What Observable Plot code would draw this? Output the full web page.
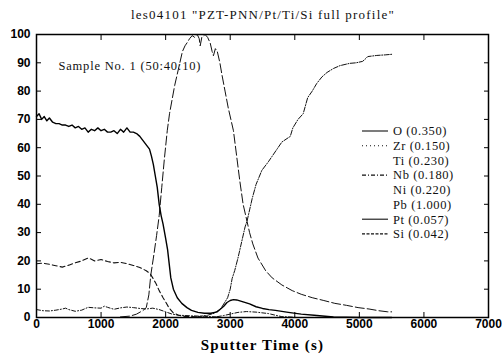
<!DOCTYPE html>
<html><head><meta charset="utf-8">
<script src="https://cdn.jsdelivr.net/npm/d3@7"></script>
<script src="https://cdn.jsdelivr.net/npm/@observablehq/plot@0.6"></script>
<style>
body{margin:0;background:#fff;width:502px;height:356px;overflow:hidden;position:relative;font-family:"Liberation Serif","Times New Roman",serif;}
#title{height:22px;line-height:30px;text-align:center;padding-left:24px;font-size:13px;letter-spacing:1.2px;color:#111;white-space:nowrap;overflow:visible;position:relative;z-index:2;}
#chart{position:relative;z-index:1;}
#legend{position:absolute;left:0;top:0;pointer-events:none;z-index:3;}
</style></head><body>
<div id="title"></div>
<div id="chart"></div>
<svg id="legend" width="502" height="356"></svg>
<script>
const titleText = 'les04101 "PZT-PNN/Pt/Ti/Si full profile"';
const sampleLabel = "Sample No. 1 (50:40:10)";
const xLabel = "Sputter Time (s)";
const xTicks = [0, 1000, 2000, 3000, 4000, 5000, 6000, 7000];
const yTicks = [0, 10, 20, 30, 40, 50, 60, 70, 80, 90, 100];

// O (solid)
const oTime = [0,40,80,120,160,200,250,300,350,400,450,500,550,600,650,700,750,800,850,900,950,1000,1050,1100,1150,1200,1250,1300,1350,1400,1450,1500,1550,1600,1650,1700,1750,1780,1810,1840,1870,1900,1930,1960,2000,2030,2060,2080,2120,2180,2250,2330,2400,2500,2600,2700,2800,2850,2900,2950,3000,3050,3100,3200,3300,3400,3500,3600,3700,3900,4100,4300,4600,5000,5500];
const oVal  = [71,72,70,71,69.5,70.5,69,68.5,68.5,68,68,67.5,68,67,67.5,66.5,67,65.5,66.5,66,67,66,66.5,65.5,65.5,66,65,66.5,65.5,67,65.5,65.5,65,64,62.5,61,59.5,57,54,50,46,40,36,33,28,24,18,14,10,7,5,3.5,2.5,1.8,1.5,1.5,2,3,4,5.3,6,6.3,6.2,5.5,4.8,3.8,3.2,2.8,2.5,1.8,1.2,0.8,0.2,0,0];
// Pb (short dash)
const pbTime = [0,100,200,300,400,500,600,700,800,850,900,1000,1100,1200,1300,1400,1500,1600,1700,1760,1800,1850,1900,1960,2000,2050,2120,2200,2300,2500];
const pbVal  = [19,19.2,18.8,18.3,17.8,18.5,19.3,20,21,20.6,20,20.5,19.8,19.3,19.5,19,18.4,17.7,16.5,15.5,14,12,9.5,7,5.5,3.5,1.6,0.8,0.4,0.2];
// Nb (dash-dot, low)
const nbTime = [0,100,200,300,400,450,500,600,700,800,900,1000,1050,1100,1200,1300,1400,1500,1600,1700,1800,1900,2000,2100,2200,2400,2600,2800];
const nbVal  = [2.8,2.4,2.3,2.6,3.0,3.3,2.8,2.2,2.6,3.6,3.4,3.3,4.0,3.6,2.9,3.4,3.7,3.5,3.2,3.0,3.3,2.8,2.0,1.2,0.8,0.6,0.4,0.2];
// Pt (long dash peak)
const ptTime = [1300,1450,1550,1650,1700,1740,1770,1810,1860,1900,1940,1980,2025,2060,2100,2140,2180,2220,2260,2300,2330,2370,2410,2450,2490,2520,2535,2560,2610,2650,2690,2720,2740,2770,2800,2840,2870,2920,2970,3010,3050,3100,3150,3200,3260,3300,3350,3430,3550,3650,3800,3960,4100,4270,4450,4620,4800,4980,5150,5300,5440,5500];
const ptVal  = [0.2,0.5,1.2,2.5,3.5,8,15,21,29,36,46,56,66,72,77,82,86,90,94,96,97,98.5,99.6,99,100,98.5,96,99,100,99,97,94,92.5,95,94,90,86,80,74,70,66,57,48,40,34,30,26,21,16.5,14,11.5,9.5,8.2,7,6,5,4.3,3.5,3,2.4,2,2];
// Si (dash-dot rising)
const siTime = [2500,2650,2750,2850,2920,2960,3000,3030,3070,3120,3180,3230,3260,3300,3340,3400,3490,3590,3650,3740,3800,3930,3970,4050,4130,4200,4270,4340,4420,4500,4600,4700,4850,4950,5050,5100,5130,5270,5400,5500];
const siVal  = [0.3,0.8,1.5,3,5.5,7,10,13.8,16.6,21,27,32,34,38,42,47,52,55,57,60,62,64,67,70,72,77.7,80,82.7,85,86.6,88,89,89.8,90,90.5,91.5,92.2,92.6,92.8,93];
// Ti (small dash-dot bump)
const tiTime = [2800,2900,3000,3120,3250,3400,3590,3700,3800,4000];
const tiVal  = [0.3,0.7,1.2,1.8,2.1,1.9,1.4,0.8,0.3,0.1];

const legendNames = ["O (0.350)","Zr (0.150)","Ti (0.230)","Nb (0.180)","Ni (0.220)","Pb (1.000)","Pt (0.057)","Si (0.042)"];
const legendDash  = ["none","1,3",null,"4,2,1,2",null,null,"none","3,1.5"];

const toRows = (name, ts, vs) => ts.map((t, i) => ({name, t, v: vs[i]}));
const oRows = toRows("O", oTime, oVal);
const pbRows = toRows("Pb", pbTime, pbVal);
const nbRows = toRows("Nb", nbTime, nbVal);
const ptRows = toRows("Pt", ptTime, ptVal);
const siRows = toRows("Si", siTime, siVal);
const tiRows = toRows("Ti", tiTime, tiVal);

document.getElementById("title").textContent = titleText;

const fmt = d3.format("d");
const plot = Plot.plot({
  width: 502, height: 334,
  marginTop: 12, marginLeft: 36, marginRight: 14, marginBottom: 39,
  x: {domain: [0, 7000]},
  y: {domain: [0, 100]},
  style: {fontFamily: "'Liberation Sans', Arial, sans-serif", fontSize: "12px", fontWeight: "bold", color: "#000", background: "transparent", overflow: "visible"},
  marks: [
    Plot.line(ptRows, {x: "t", y: "v", stroke: "#111", strokeWidth: 1, strokeDasharray: "9,3"}),
    Plot.line(siRows, {x: "t", y: "v", stroke: "#111", strokeWidth: 1, strokeDasharray: "5,1.5,1,1.5"}),
    Plot.line(pbRows, {x: "t", y: "v", stroke: "#111", strokeWidth: 1.1, strokeDasharray: "5,3"}),
    Plot.line(nbRows, {x: "t", y: "v", stroke: "#111", strokeWidth: 1, strokeDasharray: "4,2,1,2"}),
    Plot.line(tiRows, {x: "t", y: "v", stroke: "#111", strokeWidth: 1, strokeDasharray: "4,2,1,2"}),
    Plot.line(oRows, {x: "t", y: "v", stroke: "#000", strokeWidth: 1.4}),
    Plot.axisX(xTicks, {anchor: "bottom", tickSize: 0, tickPadding: 2, tickFormat: fmt, label: null, fontWeight: "bold"}),
    Plot.axisX(xTicks, {anchor: "bottom", tickSize: -5, tickFormat: () => "", label: null}),
    Plot.axisX(xTicks, {anchor: "top", tickSize: -5, tickFormat: () => "", label: null}),
    Plot.axisY(yTicks, {anchor: "left", tickSize: 0, tickPadding: 6, tickFormat: fmt, label: null, fontWeight: "bold"}),
    Plot.axisY(yTicks, {anchor: "left", tickSize: -5, tickFormat: () => "", label: null}),
    Plot.axisY(yTicks, {anchor: "right", tickSize: -5, tickFormat: () => "", label: null}),
    Plot.frame({stroke: "#000", strokeWidth: 1.5}),
    Plot.text([sampleLabel], {text: d => d, frameAnchor: "top-left", dx: 22, dy: 31, textAnchor: "start", lineAnchor: "middle", fontFamily: "'Liberation Serif', serif", fontSize: 12.5, fontWeight: "normal", fill: "#111"}),
    Plot.text([xLabel], {text: d => d, frameAnchor: "bottom", dy: 28, lineAnchor: "middle", fontFamily: "'Liberation Serif', serif", fontSize: 15, fontWeight: "bold", fill: "#000"})
  ]
});
document.getElementById("chart").appendChild(plot);
plot.querySelectorAll("text").forEach(t => {
  if (t.textContent === sampleLabel) t.style.letterSpacing = "0.8px";
  if (t.textContent === xLabel) t.style.letterSpacing = "1.2px";
});

// legend overlay
const lg = d3.select("#legend");
const rowY0 = 131, rowStep = 14.7;
legendNames.forEach((name, i) => {
  const y = rowY0 + i * rowStep;
  const dash = legendDash[i];
  if (dash !== null) {
    const ln = lg.append("line").attr("x1", 362).attr("x2", 388).attr("y1", y).attr("y2", y)
      .attr("stroke", "#111").attr("stroke-width", 1.1);
    if (dash !== "none") ln.attr("stroke-dasharray", dash);
  }
  lg.append("text").attr("x", 393).attr("y", y).attr("dy", "0.35em")
    .attr("font-family", "'Liberation Serif', serif").attr("font-size", 12.5)
    .attr("letter-spacing", "0.6px").attr("fill", "#111").text(name);
});
</script>
</body></html>
